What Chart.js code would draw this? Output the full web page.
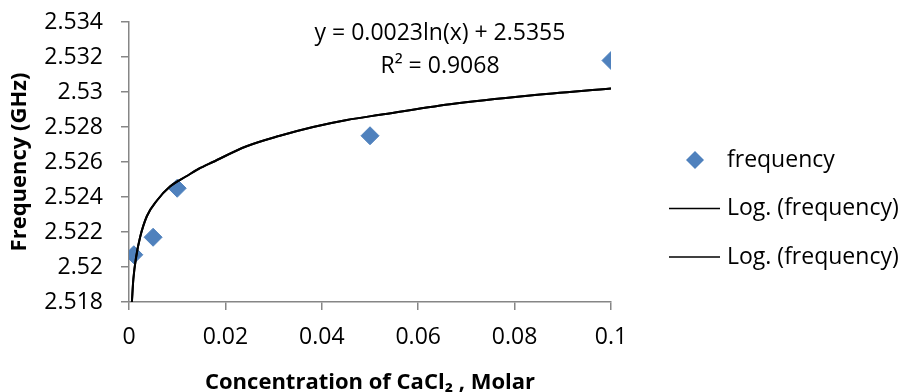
<!DOCTYPE html>
<html>
<head>
<meta charset="utf-8">
<script src="https://cdn.jsdelivr.net/npm/chart.js@4.4.0/dist/chart.umd.min.js"></script>
<style>
  html, body { margin: 0; padding: 0; background: #fff; }
  #wrap { width: 903px; height: 392px; }
</style>
</head>
<body>
<div id="wrap"><canvas id="chart" width="903" height="392"></canvas></div>
<script>
// measured points
const concentration = [0.001, 0.005, 0.01, 0.05, 0.1];
const frequency = [2.5207, 2.5217, 2.5245, 2.5275, 2.5318];

// log trendline
const trendX = [0.0006, 0.0009, 0.0015, 0.0023, 0.0037, 0.0058, 0.0085, 0.012, 0.0144, 0.0174, 0.0244, 0.0313, 0.0382, 0.0452, 0.0521, 0.0666, 0.0832, 0.1];
const trendY = [2.518, 2.5193, 2.5206, 2.5217, 2.5229, 2.5238, 2.5246, 2.5252, 2.5256, 2.526, 2.5269, 2.5275, 2.528, 2.5284, 2.5287, 2.5293, 2.5298, 2.5302];

const seriesNames = ["frequency", "Log. (frequency)", "Log. (frequency)"];
const equationLines = ["y = 0.0023ln(x) + 2.5355", "R\u00B2 = 0.9068"];

const FONT = '"Open Sans", "DejaVu Sans", sans-serif';
const AXIS_GREY = "#868686";

const pointData = concentration.map((c, i) => ({ x: c, y: frequency[i] }));
const trendData = trendX.map((c, i) => ({ x: c, y: trendY[i] }));

// equation + R² text over the plot
const equationLabel = {
  id: "equationLabel",
  afterDraw(chart) {
    const ctx = chart.ctx;
    ctx.save();
    ctx.font = "23px " + FONT;
    ctx.fillStyle = "#000";
    ctx.textAlign = "center";
    ctx.textBaseline = "middle";
    ctx.fillText(equationLines[0], 440, 33);
    ctx.fillText(equationLines[1], 440, 66);
    ctx.restore();
  },
};

// legend on the right, drawn by hand so the diamond and lines look like Excel's
const sideLegend = {
  id: "sideLegend",
  afterDraw(chart) {
    const ctx = chart.ctx;
    ctx.save();
    ctx.font = "23px " + FONT;
    ctx.textBaseline = "middle";
    chart.data.datasets.forEach((ds, i) => {
      const y = 160 + i * 48.5;
      if (ds.showLine) {
        ctx.strokeStyle = ds.borderColor;
        ctx.lineWidth = 1.5;
        ctx.beginPath();
        ctx.moveTo(669, y);
        ctx.lineTo(720, y);
        ctx.stroke();
      } else {
        ctx.fillStyle = ds.backgroundColor;
        ctx.beginPath();
        ctx.moveTo(695, y - 9);
        ctx.lineTo(704, y);
        ctx.lineTo(695, y + 9);
        ctx.lineTo(686, y);
        ctx.closePath();
        ctx.fill();
      }
      ctx.fillStyle = "#000";
      ctx.fillText(ds.label, 727, y);
    });
    ctx.restore();
  },
};

const trendStyle = {
  showLine: true,
  borderColor: "#000",
  borderWidth: 2,
  pointRadius: 0,
  pointHoverRadius: 0,
  cubicInterpolationMode: "monotone",
  fill: false,
};

new Chart(document.getElementById("chart"), {
  type: "scatter",
  data: {
    datasets: [
      {
        label: seriesNames[0],
        data: pointData,
        pointStyle: "rectRot",
        pointRadius: 9,
        backgroundColor: "#4F81BD",
        borderColor: "#4F81BD",
        borderWidth: 1,
        order: 3,
      },
      { label: seriesNames[1], data: trendData, order: 2, ...trendStyle },
      { label: seriesNames[2], data: trendData, order: 1, ...trendStyle },
    ],
  },
  options: {
    responsive: false,
    animation: false,
    layout: { padding: { left: 0, right: 292, top: 22, bottom: 0 } },
    plugins: {
      legend: { display: false },
      tooltip: { enabled: false },
    },
    scales: {
      x: {
        type: "linear",
        min: 0,
        max: 0.1,
        afterFit: (scale) => {
          scale.height = 90;
          scale.paddingLeft = 0;
          scale.paddingRight = 0;
        },
        ticks: {
          stepSize: 0.02,
          padding: 14,
          color: "#000",
          font: { family: FONT, size: 23 },
          callback: (v) => String(Number(v.toFixed(2))),
        },
        grid: { drawOnChartArea: false, drawTicks: true, tickLength: 8, color: AXIS_GREY, lineWidth: 1.5 },
        border: { display: true, color: AXIS_GREY, width: 1.5 },
        title: {
          display: true,
          text: "Concentration of CaCl\u2082 , Molar",
          color: "#000",
          font: { family: FONT, size: 22, weight: "bold", lineHeight: 0.8 },
          padding: 0,
        },
      },
      y: {
        type: "linear",
        min: 2.518,
        max: 2.534,
        afterFit: (scale) => {
          scale.width = 129;
          scale.paddingTop = 0;
          scale.paddingBottom = 0;
        },
        ticks: {
          stepSize: 0.002,
          padding: 18,
          color: "#000",
          font: { family: FONT, size: 23 },
          callback: (v) => String(Number(v.toFixed(3))),
        },
        grid: { drawOnChartArea: false, drawTicks: true, tickLength: 8, color: AXIS_GREY, lineWidth: 1.5 },
        border: { display: true, color: AXIS_GREY, width: 1.5 },
        title: {
          display: true,
          text: "Frequency (GHz)",
          color: "#000",
          font: { family: FONT, size: 22, weight: "bold", lineHeight: 1 },
          padding: { top: 9, bottom: 0 },
        },
      },
    },
  },
  plugins: [equationLabel, sideLegend],
});
</script>
</body>
</html>
